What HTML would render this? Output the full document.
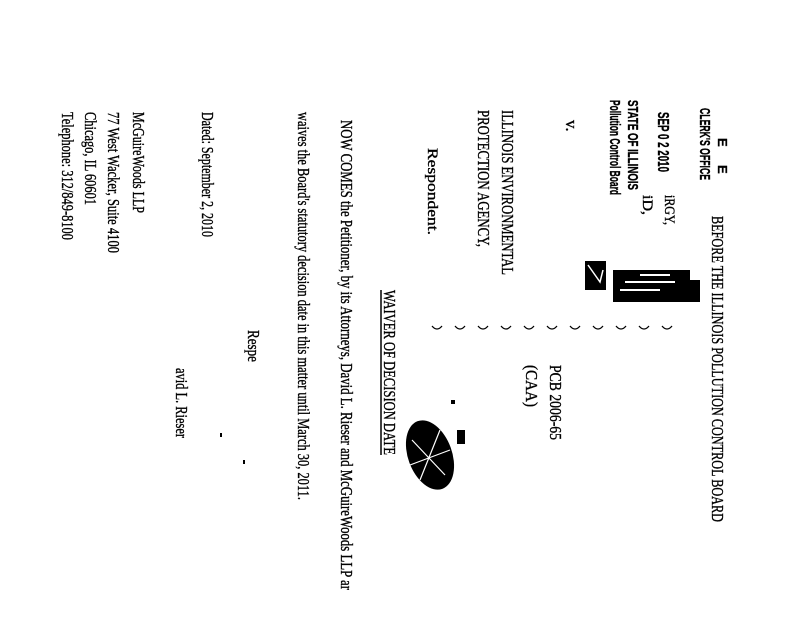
<!DOCTYPE html>
<html><head><meta charset="utf-8"><style>
html,body{margin:0;padding:0;background:#fff;}
svg{display:block;}
text{font-family:"Liberation Serif",serif;fill:#000;stroke:#000;stroke-width:0.35;}
.b{font-family:"Liberation Sans",sans-serif;font-weight:bold;}
</style></head><body>
<svg width="800" height="618" viewBox="0 0 800 618" xmlns="http://www.w3.org/2000/svg">
<g font-size="17">
<text transform="translate(712,216) rotate(90)" textLength="306" lengthAdjust="spacingAndGlyphs">BEFORE THE ILLINOIS POLLUTION CONTROL BOARD</text>
<text class="b" font-size="15" transform="translate(700,108) rotate(90)" textLength="72" lengthAdjust="spacingAndGlyphs">CLERK'S OFFICE</text>
<text class="b" font-size="13" transform="translate(718,138) rotate(90)">E</text>
<text class="b" font-size="13" transform="translate(718,165) rotate(90)">E</text>
<text class="b" font-size="16" transform="translate(658,112) rotate(90)" textLength="60" lengthAdjust="spacingAndGlyphs">SEP 0 2 2010</text>
<text font-size="15" transform="translate(665,195) rotate(90)" textLength="30" lengthAdjust="spacingAndGlyphs">iRGY,</text>
<text font-size="15" transform="translate(643,195) rotate(90)" textLength="20" lengthAdjust="spacingAndGlyphs">iD,</text>
<text class="b" font-size="15" transform="translate(628,100) rotate(90)" textLength="90" lengthAdjust="spacingAndGlyphs">STATE OF ILLINOIS</text>
<text class="b" font-size="15" transform="translate(610,100) rotate(90)" textLength="95" lengthAdjust="spacingAndGlyphs">Pollution Control Board</text>
<text transform="translate(566,120) rotate(90)">v.</text>
<text transform="translate(550,365) rotate(90)" textLength="75" lengthAdjust="spacingAndGlyphs">PCB 2006-65</text>
<text transform="translate(526,365) rotate(90)" textLength="42" lengthAdjust="spacingAndGlyphs">(CAA)</text>
<text transform="translate(502,110) rotate(90)" textLength="165" lengthAdjust="spacingAndGlyphs">ILLINOIS ENVIRONMENTAL</text>
<text transform="translate(478,110) rotate(90)" textLength="137" lengthAdjust="spacingAndGlyphs">PROTECTION AGENCY,</text>
<text font-size="15" transform="translate(428,148) rotate(90)" textLength="87" lengthAdjust="spacingAndGlyphs">Respondent.</text>
<text transform="translate(384,290) rotate(90)" textLength="165" lengthAdjust="spacingAndGlyphs">WAIVER OF DECISION DATE</text>
<line x1="381" y1="290" x2="381" y2="455" stroke="#000" stroke-width="1.5"/>
<text transform="translate(341,120) rotate(90)" textLength="470" lengthAdjust="spacingAndGlyphs">NOW COMES the Petitioner, by its Attorneys, David L. Rieser and McGuireWoods LLP ar</text>
<text transform="translate(298,112) rotate(90)" textLength="388" lengthAdjust="spacingAndGlyphs">waives the Board's statutory decision date in this matter until March 30, 2011.</text>
<text transform="translate(248,330) rotate(90)" textLength="32" lengthAdjust="spacingAndGlyphs">Respe</text>
<text transform="translate(202,112) rotate(90)" textLength="125" lengthAdjust="spacingAndGlyphs">Dated: September 2, 2010</text>
<text transform="translate(176,368) rotate(90)" textLength="70" lengthAdjust="spacingAndGlyphs">avid L. Rieser</text>
<text transform="translate(133,112) rotate(90)" textLength="101" lengthAdjust="spacingAndGlyphs">McGuireWoods LLP</text>
<text transform="translate(108,112) rotate(90)" textLength="141" lengthAdjust="spacingAndGlyphs">77 West Wacker, Suite 4100</text>
<text transform="translate(85,112) rotate(90)" textLength="93" lengthAdjust="spacingAndGlyphs">Chicago, IL 60601</text>
<text transform="translate(62,112) rotate(90)" textLength="128" lengthAdjust="spacingAndGlyphs">Telephone: 312/849-8100</text>
</g>
<g fill="none" stroke="#000" stroke-width="1.3">
<path d="M432,326 q5,6 10,0"/><path d="M455,326 q5,6 10,0"/><path d="M478,326 q5,6 10,0"/>
<path d="M501,326 q5,6 10,0"/><path d="M524,326 q5,6 10,0"/><path d="M547,326 q5,6 10,0"/>
<path d="M570,326 q5,6 10,0"/><path d="M593,326 q5,6 10,0"/><path d="M616,326 q5,6 10,0"/>
<path d="M639,326 q5,6 10,0"/><path d="M662,326 q5,6 10,0"/>
</g>
<rect x="585" y="261" width="21" height="29" fill="#000"/>
<path d="M588,265 L600,282 L603,270" stroke="#fff" stroke-width="1.5" fill="none"/>
<rect x="613" y="270" width="77" height="32" fill="#000"/>
<path d="M620,290 h40 M625,282 h50 M640,275 h30" stroke="#fff" stroke-width="2"/>
<rect x="690" y="280" width="10" height="22" fill="#000"/>
<ellipse cx="430" cy="455" rx="22" ry="36" fill="#000" transform="rotate(-20 430 455)"/>
<path d="M412,440 L445,475 M420,480 L440,430 M410,465 L450,450" stroke="#fff" stroke-width="1.2"/>
<rect x="451" y="400" width="4" height="4" fill="#000"/>
<rect x="457" y="430" width="8" height="14" fill="#000"/>
<rect x="220" y="433" width="2" height="4" fill="#000"/>
<rect x="243" y="460" width="2" height="4" fill="#000"/>
</svg>
</body></html>
